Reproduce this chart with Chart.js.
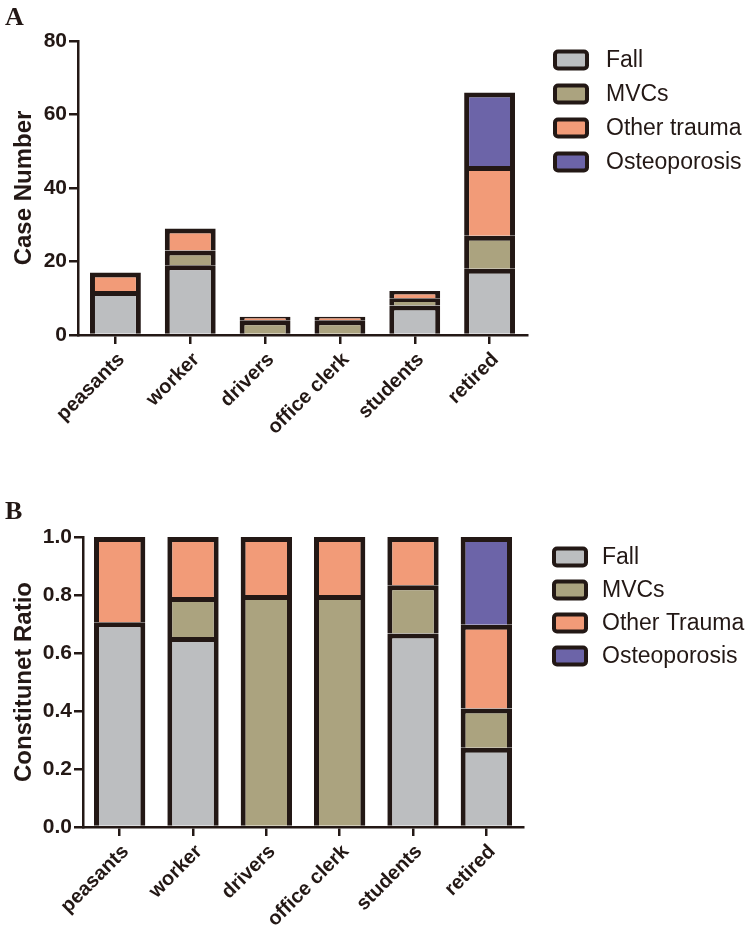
<!DOCTYPE html>
<html>
<head>
<meta charset="utf-8">
<script src="https://cdn.jsdelivr.net/npm/chart.js@4.4.1/dist/chart.umd.min.js"></script>
<style>
    body { margin: 0; background: #fff; }
    #wrap { position: relative; width: 750px; height: 940px; }
    .box { position: absolute; left: 0; width: 750px; height: 470px; }
    .panel { position: absolute; left: 5px; font: bold 26px "Liberation Serif", "Times New Roman", serif; color: #231815; }
</style>
</head>
<body>
<div id="wrap">
    <div class="box" style="top:0"><canvas id="chartA" width="750" height="470"></canvas></div>
    <div class="box" style="top:470px"><canvas id="chartB" width="750" height="470"></canvas></div>
    <div class="panel" style="top:2px">A</div>
    <div class="panel" style="top:496px">B</div>
</div>
<script>
const categories = ['peasants', 'worker', 'drivers', 'office clerk', 'students', 'retired'];

// panel A - case numbers
const fallCases = [12, 19, 0, 0, 8, 18];
const mvcCases = [0, 4, 4, 4, 2, 9];
const otherCases = [5, 6, 1, 1, 2, 19];
const osteoCases = [0, 0, 0, 0, 0, 20];
const caseTicks = [0, 20, 40, 60, 80];

// panel B - constituent ratio
const fallRatio = [0.706, 0.655, 0, 0, 0.667, 0.273];
const mvcRatio = [0, 0.138, 0.8, 0.8, 0.167, 0.136];
const otherRatio = [0.294, 0.207, 0.2, 0.2, 0.166, 0.288];
const osteoRatio = [0, 0, 0, 0, 0, 0.303];
const ratioTicks = [0, 0.2, 0.4, 0.6, 0.8, 1.0];

const ink = '#231815';
const colors = ['#bcbec0', '#aba37f', '#f29b78', '#6c64a8'];
const font = '"Liberation Sans", Arial, sans-serif';

// legend drawn as boxes + labels to the right of the plot (GraphPad look)
const boxLegend = {
    id: 'boxLegend',
    afterDraw(chart, args, o) {
        const ctx = chart.ctx;
        ctx.save();
        chart.data.datasets.forEach((ds, i) => {
            const y = o.y + i * o.step;
            ctx.beginPath();
            ctx.roundRect(o.x, y - 8.5, 32, 17, 3);
            ctx.fillStyle = ds.backgroundColor;
            ctx.fill();
            ctx.lineWidth = 4;
            ctx.strokeStyle = ds.borderColor;
            ctx.stroke();
            ctx.fillStyle = ink;
            ctx.font = '23px ' + font;
            ctx.textBaseline = 'middle';
            ctx.fillText(ds.label, o.x + o.gap, y + 1);
        });
        ctx.restore();
    }
};

function makeDatasets(series, names, pct) {
    return series.map((d, i) => ({
        label: names[i],
        data: d,
        backgroundColor: colors[i],
        borderColor: ink,
        borderWidth: 5,
        borderSkipped: 'start',
        barPercentage: pct,
        categoryPercentage: 1.0
    }));
}

function makeChart(id, datasets, opts) {
    const ctx = document.getElementById(id).getContext('2d');
    return new Chart(ctx, {
        type: 'bar',
        data: { labels: categories, datasets: datasets },
        plugins: [boxLegend],
        options: {
            responsive: false,
            animation: false,
            layout: { padding: { top: opts.top, right: opts.right, left: 0, bottom: 0 } },
            plugins: {
                tooltip: { enabled: false },
                legend: { display: false },
                boxLegend: opts.legend
            },
            scales: {
                x: {
                    stacked: true,
                    afterFit: s => { s.height = opts.xHeight; },
                    grid: { drawOnChartArea: false, offset: false, color: ink, lineWidth: 2.5, tickLength: 9 },
                    border: { display: true, color: ink, width: 2.5 },
                    ticks: {
                        color: ink, minRotation: 45, maxRotation: 45, padding: 4, labelOffset: 6,
                        font: { family: font, size: 20, weight: 'bold' }
                    }
                },
                y: {
                    stacked: true,
                    min: 0,
                    max: opts.max,
                    afterFit: s => { s.width = opts.yWidth; },
                    afterBuildTicks: s => { s.ticks = opts.ticks.map(v => ({ value: v })); },
                    grid: { drawOnChartArea: false, color: ink, lineWidth: 2.5, tickLength: 9 },
                    border: { display: true, color: ink, width: 2.5 },
                    ticks: {
                        color: ink, padding: 2,
                        font: { family: font, size: 21, weight: 'bold' },
                        callback: opts.fmt
                    },
                    title: {
                        display: true, text: opts.title, color: ink, padding: { top: 10, bottom: 4 },
                        font: { family: font, size: 24, weight: 'bold' }
                    }
                }
            }
        }
    });
}

const names = ['Fall', 'MVCs', 'Other trauma', 'Osteoporosis'];
const namesB = ['Fall', 'MVCs', 'Other Trauma', 'Osteoporosis'];

makeChart('chartA', makeDatasets([fallCases, mvcCases, otherCases, osteoCases], names, 0.68), {
    top: 41, right: 223, xHeight: 135, yWidth: 78,
    legend: { x: 555, y: 60, step: 34, gap: 51 },
    max: 80, ticks: caseTicks, title: 'Case Number',
    fmt: v => v
});

makeChart('chartB', makeDatasets([fallRatio, mvcRatio, otherRatio, osteoRatio], namesB, 0.7), {
    top: 67, right: 227, xHeight: 113, yWidth: 83,
    legend: { x: 554, y: 87, step: 33, gap: 48 },
    max: 1, ticks: ratioTicks, title: 'Constitunet Ratio',
    fmt: v => Number(v).toFixed(1)
});
</script>
</body>
</html>
